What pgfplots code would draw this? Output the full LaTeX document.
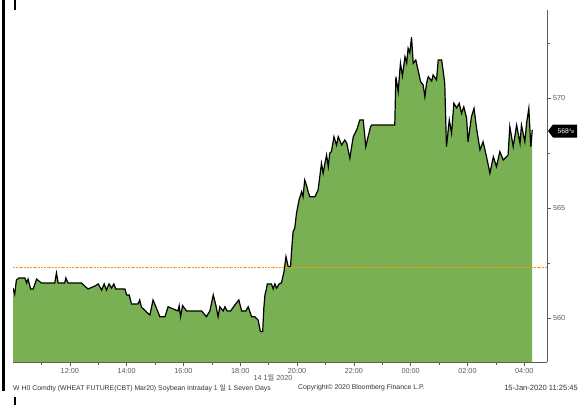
\documentclass[border=0pt]{standalone}
\usepackage{pgfplots}
\usepackage{pgfplotstable}
\pgfplotsset{compat=1.18}
\usepackage{fontspec}
\setmainfont{Liberation Sans}
\newfontfamily\kr{Noto Sans CJK KR}
\definecolor{bbgreen}{RGB}{122,176,84}
\definecolor{bborange}{RGB}{250,150,20}
\definecolor{axgray}{RGB}{90,90,90}

\pgfplotstableread{
h v
10.00 561.36
10.06 561.09
10.12 561.73
10.21 561.82
10.42 561.82
10.48 561.59
10.53 561.77
10.62 561.32
10.71 561.32
10.83 561.77
11.00 561.59
11.47 561.59
11.53 562.05
11.59 561.59
11.82 561.59
11.86 561.82
11.94 561.59
12.41 561.59
12.64 561.32
12.88 561.45
13.00 561.55
13.12 561.27
13.21 561.55
13.29 561.27
13.38 561.55
13.47 561.36
13.55 561.55
13.62 561.32
13.94 561.32
14.00 561.05
14.09 561.05
14.17 560.64
14.40 560.64
14.46 560.82
14.52 560.50
14.70 560.27
14.82 560.14
14.93 560.82
15.05 560.45
15.17 560.06
15.35 560.06
15.46 560.51
15.81 560.32
15.85 560.56
15.90 560.06
15.97 560.56
16.11 560.32
16.64 560.32
16.81 560.06
16.93 560.32
17.05 561.05
17.14 560.59
17.22 560.06
17.28 560.51
17.40 560.32
17.46 560.51
17.54 560.32
17.66 560.32
17.81 560.59
17.95 560.82
18.05 560.32
18.20 560.32
18.28 560.51
18.40 560.06
18.51 560.06
18.63 559.91
18.71 559.38
18.79 559.38
18.83 560.44
18.87 561.05
18.93 561.36
18.95 561.55
19.10 561.55
19.16 561.32
19.22 561.55
19.28 561.36
19.37 561.55
19.45 561.59
19.54 562.10
19.61 562.79
19.69 562.33
19.77 562.33
19.81 563.09
19.86 563.92
19.92 564.09
19.98 564.76
20.07 565.36
20.16 565.74
20.21 565.51
20.27 566.27
20.33 566.05
20.39 565.74
20.45 565.51
20.63 565.51
20.74 565.82
20.80 566.42
20.86 567.03
20.92 566.58
20.98 567.03
21.04 567.41
21.10 566.88
21.15 567.49
21.21 567.56
21.30 568.24
21.39 567.86
21.45 568.24
21.57 567.86
21.68 568.09
21.75 567.95
21.86 567.26
21.92 567.77
21.98 568.24
22.10 568.55
22.21 569.00
22.33 569.00
22.42 567.79
22.50 568.24
22.59 568.70
22.63 568.77
23.44 568.77
23.48 570.97
23.56 570.29
23.64 571.58
23.71 571.00
23.80 571.88
23.86 571.59
23.91 572.26
23.97 572.05
24.03 572.76
24.09 571.58
24.18 571.73
24.26 571.27
24.35 570.74
24.44 570.59
24.50 570.06
24.56 570.67
24.62 570.97
24.74 570.77
24.79 571.05
24.91 570.82
24.97 571.73
25.09 571.73
25.14 571.27
25.20 570.67
25.26 567.79
25.36 569.00
25.44 568.40
25.52 569.76
25.62 569.55
25.71 569.76
25.79 569.30
25.87 569.60
25.97 569.08
26.02 568.01
26.14 569.15
26.23 569.53
26.32 568.62
26.44 567.64
26.55 568.01
26.67 567.33
26.79 566.58
26.91 567.33
27.02 566.88
27.14 567.56
27.26 567.18
27.43 567.41
27.49 568.70
27.61 567.79
27.73 568.77
27.85 567.94
27.90 568.77
28.02 568.01
28.08 568.85
28.16 569.53
28.23 567.79
28.28 568.55
}\pricedata

\begin{document}
\begin{tikzpicture}[x=1bp,y=1bp]
\path[use as bounding box] (0,0) rectangle (579,405);
\fill[white] (0,0) rectangle (579,405);
\begin{axis}[
  at={(13bp,43bp)}, anchor=south west,
  scale only axis, width=534bp, height=352bp,
  xmin=10, xmax=28.8, ymin=558, ymax=574,
  axis x line*=bottom, axis y line*=right,
  axis line style={axgray, line width=0.6bp, -},
  tick align=outside,
  xtick={12,14,...,28},
  xticklabels={12:00,14:00,16:00,18:00,20:00,22:00,00:00,02:00,04:00},
  minor xtick={11,13,...,27},
  ytick={560,565,570},
  minor ytick={562.5,567.5,572.5},
  major tick length=3.5bp, minor tick length=2.5bp,
  tick style={axgray, line width=0.6bp},
  /pgf/number format/assume math mode=true,
  ticklabel style={font=\fontsize{7.3}{8}\selectfont, text=axgray},
  xticklabel style={yshift=1bp},
  yticklabel style={xshift=-1bp},
  clip=true,
]
\addplot[draw=none, fill=bbgreen] table[x=h, y=v] {\pricedata} \closedcycle;
\addplot[black, line width=1.2bp] table[x=h, y=v] {\pricedata};
\addplot[color=bborange, solid, line width=1.2bp, dash pattern=on 2bp off 0.8bp] coordinates {(10,562.3) (28.8,562.3)};
\end{axis}
% current price marker
\fill[black] (548,274) -- (553,280.5) -- (577,280.5) -- (577,267.5) -- (553,267.5) -- cycle;
\node[white, font=\fontsize{6.8}{7}\selectfont, inner sep=0] at (566,274) {568\raisebox{1.4bp}{\fontsize{4}{4}\selectfont 4}\hspace{-0.2bp}{\fontsize{4}{4}\selectfont/8}};
% date label
\node[font=\fontsize{7.3}{8}\selectfont, text=axgray, inner sep=0] at (273,27) {14 {\kr 1월} 2020};
% footer
\node[anchor=west, font=\fontsize{6.9}{7}\selectfont, text=black!80, inner sep=0] at (13,17) {W H0 Comdty (WHEAT FUTURE(CBT) Mar20) Soybean Intraday 1 {\kr 일} 1 Seven Days};
\node[anchor=west, font=\fontsize{6.9}{7}\selectfont, text=black!80, inner sep=0] at (298,17) {Copyright\textcopyright{} 2020 Bloomberg Finance L.P.};
\node[anchor=east, font=\fontsize{7.6}{8}\selectfont, text=black!80, inner sep=0] at (578,17) {15-Jan-2020 11:25:45};
% screenshot border bars
\fill[black] (2,14) rectangle (5,405);
\fill[black] (14,0) rectangle (16,8);
\fill[black] (14,395) rectangle (16,405);
\end{tikzpicture}
\end{document}
